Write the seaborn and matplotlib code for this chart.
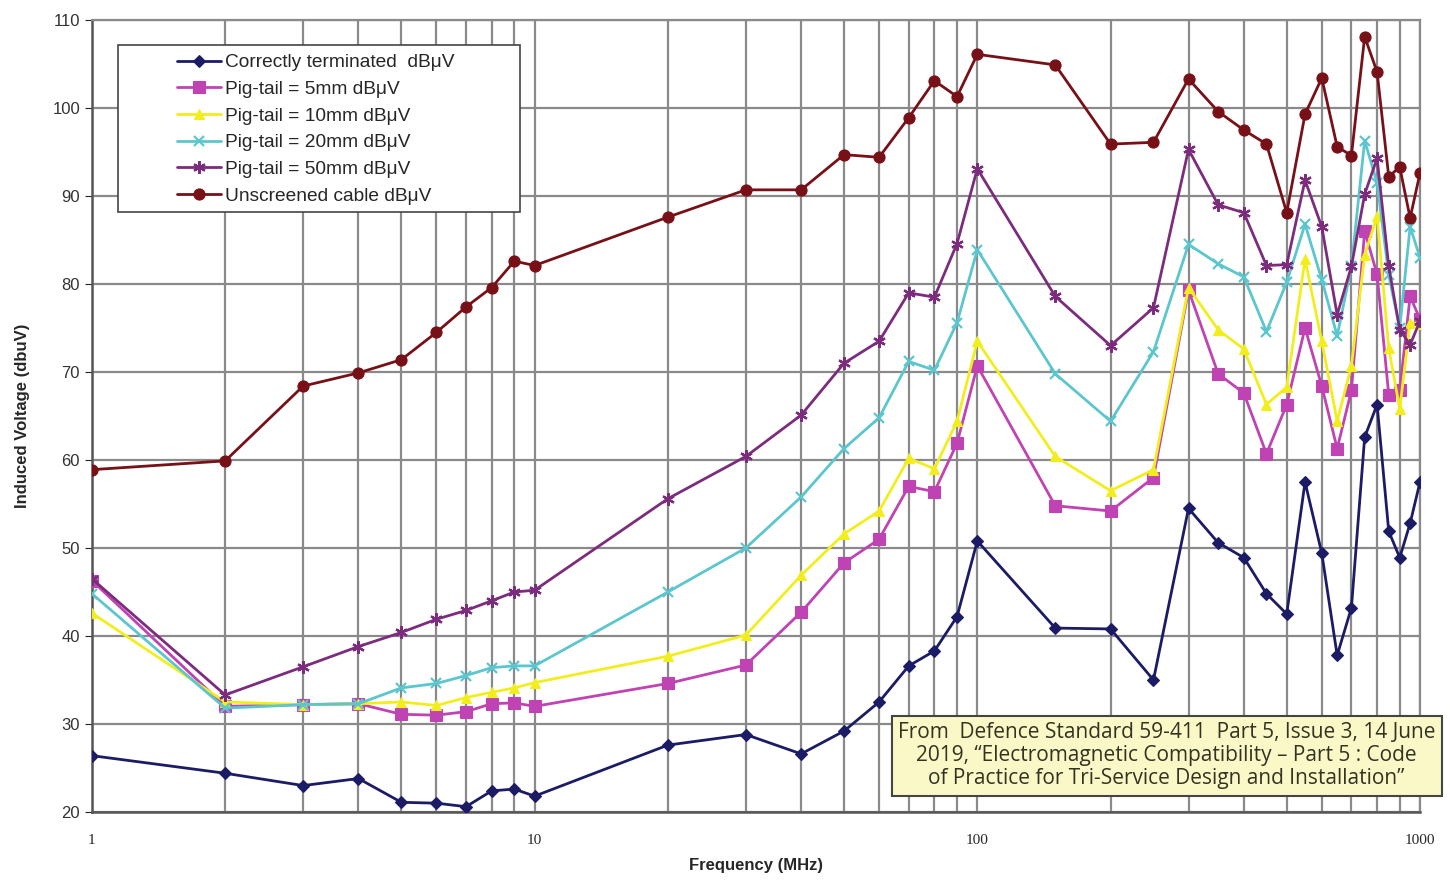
import pandas as pd
import seaborn as sns
import matplotlib.pyplot as plt
import matplotlib.ticker as mticker
from matplotlib.patches import Rectangle

# Frequencies (MHz)
freq = [1, 2, 3, 4, 5, 6, 7, 8, 9, 10, 20, 30, 40, 50, 60, 70, 80, 90, 100,
        150, 200, 250, 300, 350, 400, 450, 500, 550, 600, 650, 700, 750, 800,
        850, 900, 950, 1000]

correct = [26.4, 24.4, 23.0, 23.8, 21.1, 21.0, 20.6, 22.4, 22.6, 21.8, 27.6, 28.8,
           26.6, 29.2, 32.5, 36.6, 38.3, 42.2, 50.8, 40.9, 40.8, 35.0, 54.5, 50.6,
           48.9, 44.8, 42.5, 57.5, 49.4, 37.8, 43.2, 62.6, 66.3, 51.9, 48.9, 52.8, 57.5]
pig5 = [46.3, 32.0, 32.2, 32.3, 31.1, 31.0, 31.4, 32.3, 32.4, 32.0, 34.6, 36.7,
        42.7, 48.3, 51.0, 57.0, 56.4, 61.9, 70.7, 54.8, 54.2, 58.0, 79.3, 69.8,
        67.6, 60.7, 66.3, 75.0, 68.4, 61.3, 67.9, 86.0, 81.1, 67.4, 67.9, 78.6, 76.0]
pig10 = [42.6, 32.5, 32.2, 32.3, 32.5, 32.1, 33.0, 33.6, 34.1, 34.7, 37.7, 40.1,
         46.9, 51.6, 54.2, 60.2, 59.0, 64.4, 73.5, 60.4, 56.5, 58.9, 79.6, 74.8,
         72.6, 66.3, 68.3, 82.8, 73.5, 64.4, 70.7, 83.3, 87.7, 72.7, 65.8, 75.6, 75.5]
pig20 = [44.8, 31.8, 32.2, 32.3, 34.1, 34.6, 35.5, 36.4, 36.6, 36.6, 45.0, 50.0,
         55.8, 61.3, 64.8, 71.2, 70.2, 75.6, 83.9, 69.8, 64.4, 72.3, 84.5, 82.3,
         80.8, 74.6, 80.2, 86.8, 80.5, 74.1, 82.0, 96.3, 91.5, 81.0, 75.0, 86.5, 83.0]
pig50 = [46.5, 33.3, 36.5, 38.8, 40.4, 41.9, 42.9, 44.0, 45.0, 45.2, 55.6, 60.4,
         65.1, 71.0, 73.5, 79.0, 78.5, 84.6, 93.1, 78.6, 73.0, 77.3, 95.3, 89.0,
         88.1, 82.1, 82.2, 91.8, 86.5, 76.5, 82.0, 90.2, 94.3, 82.0, 74.8, 73.1, 75.8]
unscreened = [58.9, 59.9, 68.4, 69.9, 71.4, 74.5, 77.4, 79.6, 82.6, 82.1, 87.6, 90.7,
              90.7, 94.7, 94.4, 98.9, 103.1, 101.3, 106.1, 104.9, 95.9, 96.1, 103.3, 99.6,
              97.5, 95.9, 88.1, 99.3, 103.4, 95.6, 94.6, 108.1, 104.1, 92.2, 93.3, 87.5, 92.6]

labels = ['Correctly terminated  dBμV', 'Pig-tail = 5mm dBμV', 'Pig-tail = 10mm dBμV',
          'Pig-tail = 20mm dBμV', 'Pig-tail = 50mm dBμV', 'Unscreened cable dBμV']
series = [correct, pig5, pig10, pig20, pig50, unscreened]
colors = ['#1c1c66', '#c043b4', '#f2ee1e', '#5cc6cf', '#7c2c7c', '#781018']
markers = ['D', 's', '^', 'x', (6, 2, 0), 'o']
sizes = [6, 8, 7, 7, 9, 8]

# long format table for seaborn
rows = []
for lab, vals in zip(labels, series):
    for f, v in zip(freq, vals):
        rows.append({'Frequency': f, 'Voltage': v, 'Series': lab})
df = pd.DataFrame(rows)

sns.set_style('ticks')
plt.rcParams['font.family'] = ['Liberation Sans', 'DejaVu Sans']

fig = plt.figure(figsize=(14.5, 8.82), dpi=100)
ax = fig.add_axes([0.0634, 0.0794, 0.9159, 0.8979])

for lab, col, mk, ms in zip(labels, colors, markers, sizes):
    sns.lineplot(data=df[df['Series'] == lab], x='Frequency', y='Voltage',
                 color=col, marker=mk, markersize=ms, linewidth=2,
                 markeredgecolor=col, markeredgewidth=1.6 if mk in ('x', (6, 2, 0)) else 0.8,
                 label=lab, ax=ax, zorder=3)

ax.set_xscale('log')
ax.set_xlim(1, 1000)
ax.set_ylim(20, 110)
ax.set_yticks(range(20, 111, 10))
ax.xaxis.set_major_locator(mticker.FixedLocator([1, 10, 100, 1000]))
ax.xaxis.set_major_formatter(mticker.FixedFormatter(['1', '10', '100', '1000']))
ax.xaxis.set_minor_locator(mticker.LogLocator(base=10, subs=range(2, 10)))
ax.xaxis.set_minor_formatter(mticker.NullFormatter())
for t in ax.get_xticklabels():
    t.set_fontfamily('Liberation Serif')
    t.set_fontsize(11)
ax.tick_params(axis='y', labelsize=12, labelcolor='#333333', length=5)
ax.tick_params(axis='x', which='both', length=0, pad=16)

ax.grid(True, which='major', axis='y', color='#8a8a8a', linewidth=1.6)
ax.grid(True, which='both', axis='x', color='#8a8a8a', linewidth=1.6)
ax.set_axisbelow(True)
for side in ['left', 'bottom']:
    ax.spines[side].set_color('#555555')
    ax.spines[side].set_linewidth(1.8)
for side in ['top', 'right']:
    ax.spines[side].set_color('#8a8a8a')
    ax.spines[side].set_linewidth(1.6)

ax.set_xlabel('Frequency (MHz)', fontsize=12, fontweight='bold', labelpad=8)
ax.set_ylabel('Induced Voltage (dbuV)', fontsize=12, fontweight='bold', labelpad=16)

# legend frame drawn separately (wide Excel-style box)
ax.add_patch(Rectangle((0.0196, 0.758), 0.3026, 0.210, transform=ax.transAxes,
                       facecolor='white', edgecolor='#444444', linewidth=1.2, zorder=4))
leg = ax.legend(loc='upper left', bbox_to_anchor=(0.0640, 0.957), fontsize=13.8,
                frameon=False, handlelength=2.3, handletextpad=0.2, labelspacing=0.48,
                borderpad=0, borderaxespad=0)
leg.set_zorder(5)

fig.text(0.8045, 0.143,
         'From  Defence Standard 59-411  Part 5, Issue 3, 14 June\n'
         '2019, \u201cElectromagnetic Compatibility \u2013 Part 5 : Code\n'
         'of Practice for Tri-Service Design and Installation\u201d',
         ha='center', va='center', fontsize=15, family=['Open Sans', 'DejaVu Sans'],
         color='#333322', linespacing=1.12,
         bbox=dict(boxstyle='square,pad=0.3', facecolor='#fbf8c8', edgecolor='#444444', linewidth=1.5),
         zorder=10)

fig.savefig('out.png', dpi=100)
